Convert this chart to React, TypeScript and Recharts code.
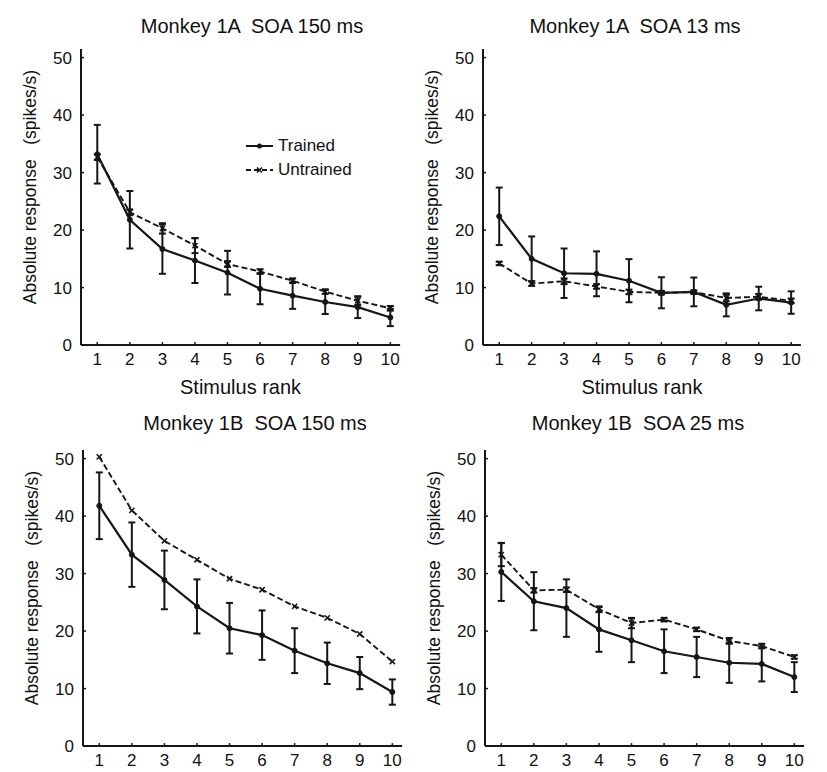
import React from 'react';
import { LineChart, Line, XAxis, YAxis, ErrorBar, Legend, Label } from 'recharts';

const ranks = [1, 2, 3, 4, 5, 6, 7, 8, 9, 10];
const yTicks = [0, 10, 20, 30, 40, 50];

const titles = [
  'Monkey 1A  SOA 150 ms',
  'Monkey 1A  SOA 13 ms',
  'Monkey 1B  SOA 150 ms',
  'Monkey 1B  SOA 25 ms',
];
const xAxisTitle = 'Stimulus rank';
const yAxisTitle = 'Absolute response\u00A0\u00A0\u00A0(spikes/s)';
const seriesNames = ['Trained', 'Untrained'];

// Panel 1: Monkey 1A SOA 150 ms
const p1Trained = [33.2, 21.8, 16.7, 14.7, 12.6, 9.8, 8.6, 7.5, 6.6, 4.8];
const p1TrainedErr = [5.1, 5.0, 4.3, 3.9, 3.8, 2.7, 2.3, 2.1, 1.9, 1.5];
const p1Untrained = [32.7, 23.1, 20.3, 17.3, 14.1, 12.8, 11.2, 9.3, 7.7, 6.4];
const p1UntrainedErr = [0.5, 0.5, 0.9, 1.3, 0.5, 0.4, 0.4, 0.4, 0.7, 0.4];

// Panel 2: Monkey 1A SOA 13 ms
const p2Trained = [22.4, 15.0, 12.5, 12.4, 11.2, 9.1, 9.25, 7.0, 8.1, 7.4];
const p2TrainedErr = [5.0, 3.9, 4.3, 3.9, 3.75, 2.7, 2.5, 2.0, 2.05, 1.95];
const p2Untrained = [14.2, 10.7, 11.1, 10.2, 9.25, 9.1, 9.2, 8.2, 8.4, 7.7];
const p2UntrainedErr = [0.3, 0.4, 0.5, 0.4, 0.4, 0.3, 0.3, 0.6, 0.5, 0.4];

// Panel 3: Monkey 1B SOA 150 ms
const p3Trained = [41.8, 33.3, 28.9, 24.3, 20.5, 19.3, 16.6, 14.4, 12.7, 9.4];
const p3TrainedErr = [5.8, 5.6, 5.1, 4.7, 4.4, 4.3, 3.9, 3.6, 2.8, 2.2];
const p3Untrained = [50.3, 41.0, 35.7, 32.4, 29.1, 27.2, 24.3, 22.3, 19.5, 14.7];

// Panel 4: Monkey 1B SOA 25 ms
const p4Trained = [30.3, 25.2, 24.0, 20.3, 18.4, 16.5, 15.5, 14.5, 14.3, 12.0];
const p4TrainedErr = [5.05, 5.05, 5.0, 3.9, 3.8, 3.8, 3.5, 3.5, 3.05, 2.6];
const p4Untrained = [33.3, 27.1, 27.2, 23.8, 21.4, 22.0, 20.3, 18.3, 17.4, 15.5];
const p4UntrainedErr = [2.0, 0.4, 0.4, 0.5, 0.9, 0.3, 0.3, 0.5, 0.4, 0.3];

const INK = '#161616';
const FONT = '"Liberation Sans", Arial, Helvetica, sans-serif';

const XDot = (props: any) => {
  const { cx, cy, index } = props;
  if (cx == null || cy == null) return null;
  const s = 2.6;
  return (
    <path
      key={`x-${index}`}
      d={`M${cx - s},${cy - s}L${cx + s},${cy + s}M${cx - s},${cy + s}L${cx + s},${cy - s}`}
      stroke={INK}
      strokeWidth={1.6}
      fill="none"
    />
  );
};

const LegendContent = () => (
  <div style={{ fontFamily: FONT, fontSize: 17, color: '#111' }}>
    {seriesNames.map((name, i) => (
      <div key={name} style={{ display: 'flex', alignItems: 'center', height: 24 }}>
        <svg width={29} height={24} style={{ display: 'block' }}>
          <line
            x1={1}
            y1={12}
            x2={28}
            y2={12}
            stroke={INK}
            strokeWidth={2}
            strokeDasharray={i === 1 ? '5 3' : undefined}
          />
          {i === 0 ? (
            <circle cx={14.5} cy={12} r={2.5} fill={INK} />
          ) : (
            <path d="M12,9.5L17,14.5M12,14.5L17,9.5" stroke={INK} strokeWidth={1.6} />
          )}
        </svg>
        <span style={{ marginLeft: 4, lineHeight: '24px' }}>{name}</span>
      </div>
    ))}
  </div>
);

type PanelProps = {
  plotLeft: number;
  plotRight: number;
  plotTop: number;
  plotBottom: number;
  trained: number[];
  trainedErr: number[];
  untrained: number[];
  untrainedErr?: number[];
  showXLabel?: boolean;
  showLegend?: boolean;
};

const PAD_L = 80;
const PAD_T = 50;
const PAD_R = 20;
const PAD_B = 70;
const Y_AXIS_W = 60;
const X_AXIS_H = 30;

function Panel(p: PanelProps) {
  const plotW = p.plotRight - p.plotLeft;
  const plotH = p.plotBottom - p.plotTop;
  const width = plotW + PAD_L + PAD_R;
  const height = plotH + PAD_T + PAD_B;
  const chartLeft = p.plotLeft - PAD_L;
  const chartTop = p.plotTop - PAD_T;
  const data = ranks.map((r, i) => ({
    rank: r,
    trained: p.trained[i],
    trainedErr: p.trainedErr[i],
    untrained: p.untrained[i],
    untrainedErr: p.untrainedErr ? p.untrainedErr[i] : 0,
  }));
  const yLabelX = PAD_L - 45;
  const yLabelY = PAD_T + plotH / 2 - 10;
  return (
    <div style={{ position: 'absolute', left: chartLeft, top: chartTop }}>
      <LineChart
        width={width}
        height={height}
        data={data}
        margin={{ top: PAD_T, left: PAD_L - Y_AXIS_W, right: PAD_R, bottom: PAD_B - X_AXIS_H }}
      >
        <XAxis
          dataKey="rank"
          type="number"
          domain={[0.5, 10.3]}
          allowDataOverflow
          ticks={ranks}
          interval={0}
          height={X_AXIS_H}
          tickSize={-3}
          tickMargin={11}
          axisLine={{ stroke: INK, strokeWidth: 2 }}
          tickLine={{ stroke: INK, strokeWidth: 1.5 }}
          tick={{ fill: '#111', fontSize: 17 }}
        >
          {p.showXLabel ? (
            <Label
              content={() => (
                <text
                  x={PAD_L + plotW / 2}
                  y={PAD_T + plotH + 49}
                  textAnchor="middle"
                  fontSize={20}
                  fill="#111"
                >
                  {xAxisTitle}
                </text>
              )}
            />
          ) : null}
        </XAxis>
        <YAxis
          type="number"
          domain={[0, 51.5]}
          allowDataOverflow
          ticks={yTicks}
          interval={0}
          width={Y_AXIS_W}
          tickSize={-3}
          tickMargin={12}
          axisLine={{ stroke: INK, strokeWidth: 2 }}
          tickLine={{ stroke: INK, strokeWidth: 1.5 }}
          tick={{ fill: '#111', fontSize: 17 }}
        >
          <Label
            content={() => (
              <text
                x={yLabelX}
                y={yLabelY}
                transform={`rotate(-90, ${yLabelX}, ${yLabelY})`}
                textAnchor="middle"
                fontSize={17.5}
                fill="#111"
              >
                {yAxisTitle}
              </text>
            )}
          />
        </YAxis>
        <Line
          dataKey="untrained"
          name={seriesNames[1]}
          stroke={INK}
          strokeWidth={1.9}
          strokeDasharray="6 3"
          dot={XDot}
          activeDot={false}
          isAnimationActive={false}
        >
          {p.untrainedErr ? (
            <ErrorBar
              dataKey="untrainedErr"
              direction="y"
              width={3.5}
              strokeWidth={2}
              stroke={INK}
              isAnimationActive={false}
            />
          ) : null}
        </Line>
        <Line
          dataKey="trained"
          name={seriesNames[0]}
          stroke={INK}
          strokeWidth={2.2}
          dot={{ r: 2.5, fill: INK, stroke: INK, strokeWidth: 1 }}
          activeDot={false}
          isAnimationActive={false}
        >
          <ErrorBar
            dataKey="trainedErr"
            direction="y"
            width={3.5}
            strokeWidth={2}
            stroke={INK}
            isAnimationActive={false}
          />
        </Line>
        {p.showLegend ? (
          <Legend
            layout="vertical"
            align="center"
            verticalAlign="middle"
            content={LegendContent}
            wrapperStyle={{ left: 245 - chartLeft, top: 134 - chartTop, width: 140, height: 48 }}
          />
        ) : null}
      </LineChart>
    </div>
  );
}

const Title = ({ text, cx, cy }: { text: string; cx: number; cy: number }) => (
  <div
    style={{
      position: 'absolute',
      left: cx - 150,
      width: 300,
      top: cy - 9.8,
      fontSize: 20,
      lineHeight: '20px',
      textAlign: 'center',
      whiteSpace: 'pre',
      color: '#111',
    }}
  >
    {text}
  </div>
);

export default function App() {
  return (
    <div
      style={{
        position: 'fixed',
        left: 0,
        top: 0,
        width: 827,
        height: 772,
        background: '#fff',
        fontFamily: FONT,
        overflow: 'hidden',
      }}
    >
      <Title text={titles[0]} cx={252} cy={25.8} />
      <Title text={titles[1]} cx={635} cy={25.8} />
      <Title text={titles[2]} cx={255} cy={422.8} />
      <Title text={titles[3]} cx={638} cy={422.8} />
      <Panel
        plotLeft={80.7}
        plotRight={399.8}
        plotTop={49.4}
        plotBottom={345.5}
        trained={p1Trained}
        trainedErr={p1TrainedErr}
        untrained={p1Untrained}
        untrainedErr={p1UntrainedErr}
        showXLabel
        showLegend
      />
      <Panel
        plotLeft={482.8}
        plotRight={800.7}
        plotTop={49.4}
        plotBottom={345.5}
        trained={p2Trained}
        trainedErr={p2TrainedErr}
        untrained={p2Untrained}
        untrainedErr={p2UntrainedErr}
        showXLabel
      />
      <Panel
        plotLeft={82.7}
        plotRight={401.8}
        plotTop={449.6}
        plotBottom={745.7}
        trained={p3Trained}
        trainedErr={p3TrainedErr}
        untrained={p3Untrained}
      />
      <Panel
        plotLeft={484.7}
        plotRight={803.8}
        plotTop={449.6}
        plotBottom={745.7}
        trained={p4Trained}
        trainedErr={p4TrainedErr}
        untrained={p4Untrained}
        untrainedErr={p4UntrainedErr}
      />
    </div>
  );
}
